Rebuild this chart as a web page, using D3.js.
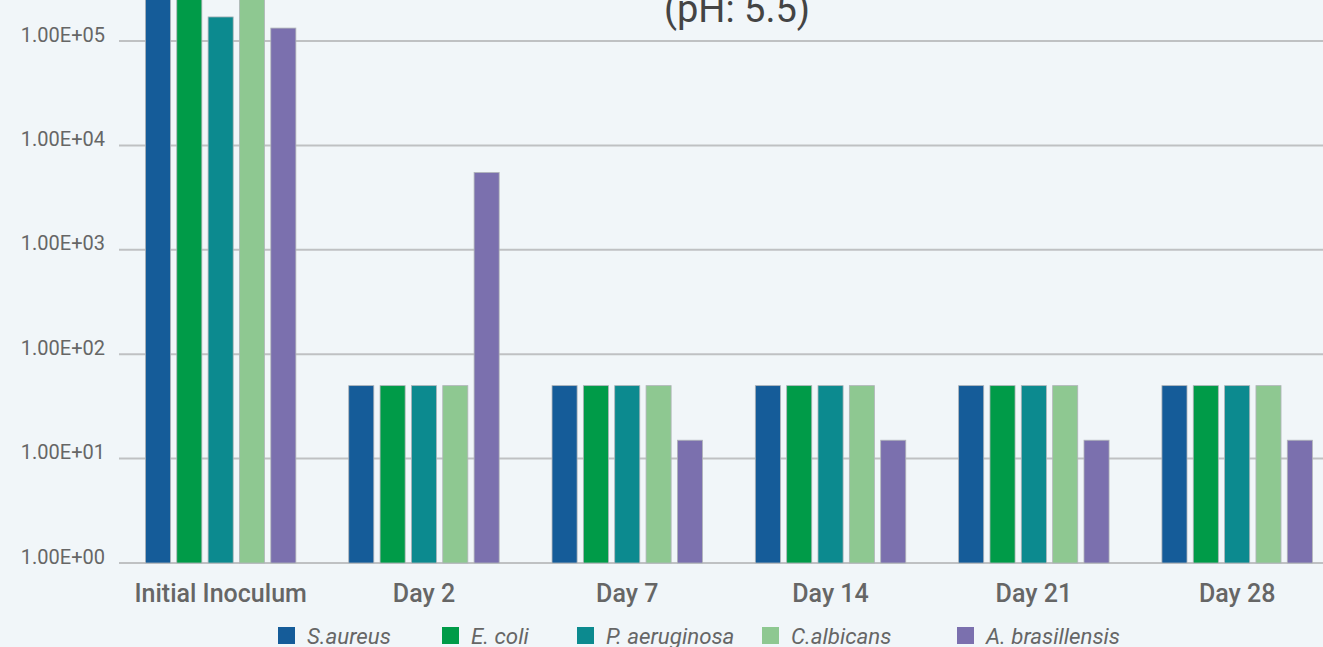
<!DOCTYPE html>
<html><head><meta charset="utf-8">
<script src="https://cdn.jsdelivr.net/npm/d3@7"></script>
<style>
html,body{margin:0;padding:0;background:#f1f6f9;overflow:hidden;}
svg{display:block;font-family:Roboto,"Noto Sans",sans-serif;}
</style></head>
<body>
<svg id="chart" width="1323" height="647"></svg>
<script>
const categories = ["Initial Inoculum","Day 2","Day 7","Day 14","Day 21","Day 28"];
const seriesNames = ["S.aureus","E. coli","P. aeruginosa","C.albicans","A. brasillensis"];
const seriesColors = ["#155c99","#009b48","#0c8a8f","#8ec891","#7b70ae"];
const saureus = [5.0e5, 50, 50, 50, 50, 50];
const ecoli = [4.0e5, 50, 50, 50, 50, 50];
const paeruginosa = [1.7e5, 50, 50, 50, 50, 50];
const calbicans = [3.5e5, 50, 50, 50, 50, 50];
const abrasillensis = [1.33e5, 5500, 15, 15, 15, 15];
const seriesValues = [saureus, ecoli, paeruginosa, calbicans, abrasillensis];
const yTicks = [1, 10, 100, 1000, 10000, 100000];
const title = "(pH: 5.5)";

const svg = d3.select("#chart");
const left = 119, plotWidth = 6 * 203.3;
const y = d3.scaleLog().domain([1, 1e5]).range([563, 41]);
const x0 = d3.scaleBand().domain(categories).range([left, left + plotWidth]).paddingInner(0.26).paddingOuter(0.13);
const x1 = d3.scaleBand().domain(seriesNames).range([0, x0.bandwidth()]).paddingInner(0.2);

// title
svg.append("text").attr("x", 737).attr("y", 22).attr("text-anchor", "middle")
  .attr("font-size", 38).attr("fill", "#444").text(title);

// grid
const fmt = d => d3.format(".2e")(d).replace("e", "E").replace(/E([+-])(\d)$/, "E$10$2").toUpperCase();
svg.append("g").selectAll("line").data(yTicks).join("line")
  .attr("x1", left).attr("x2", left + plotWidth + 50)
  .attr("y1", d => y(d)).attr("y2", d => y(d))
  .attr("stroke", "#bfc1c3").attr("stroke-width", 2);
const yAxis = d3.axisLeft(y).tickValues(yTicks).tickSize(0).tickPadding(14).tickFormat(fmt);
const gy = svg.append("g").attr("transform", `translate(${left},0)`).call(yAxis);
gy.select(".domain").remove();
gy.selectAll("text").attr("font-size", 20).attr("fill", "#666").attr("font-family", "Roboto").attr("dy", "0em");

// bars
const groups = svg.append("g").selectAll("g").data(categories).join("g")
  .attr("transform", d => `translate(${x0(d)},0)`);
groups.selectAll("rect").data((c, i) => seriesNames.map((s, j) => ({s, j, v: seriesValues[j][i]})))
  .join("rect")
  .attr("x", d => x1(d.s)).attr("width", x1.bandwidth())
  .attr("y", d => y(d.v)).attr("height", d => y(1) - y(d.v))
  .attr("fill", d => seriesColors[d.j])
  .attr("stroke", "#b0b4b8").attr("stroke-width", 0.8);

// x axis labels
const xAxis = d3.axisBottom(x0).tickSize(0).tickPadding(0);
const gx = svg.append("g").attr("transform", `translate(0,563)`).call(xAxis);
gx.select(".domain").remove();
gx.selectAll("text").attr("y", 39).attr("dy", 0).attr("font-size", 25).attr("font-weight", 500).attr("fill", "#666").attr("font-family", "Roboto");

// legend
const legendX = [278, 442, 577, 762, 957];
const lg = svg.append("g").selectAll("g").data(seriesNames).join("g")
  .attr("transform", (d, i) => `translate(${legendX[i]},627)`);
lg.append("rect").attr("width", 17).attr("height", 17).attr("fill", (d, i) => seriesColors[i]);
lg.append("text").attr("x", 29).attr("y", 16.5).attr("font-size", 22.3).attr("font-style", "italic")
  .attr("fill", "#666").text(d => d);
</script>
</body></html>
